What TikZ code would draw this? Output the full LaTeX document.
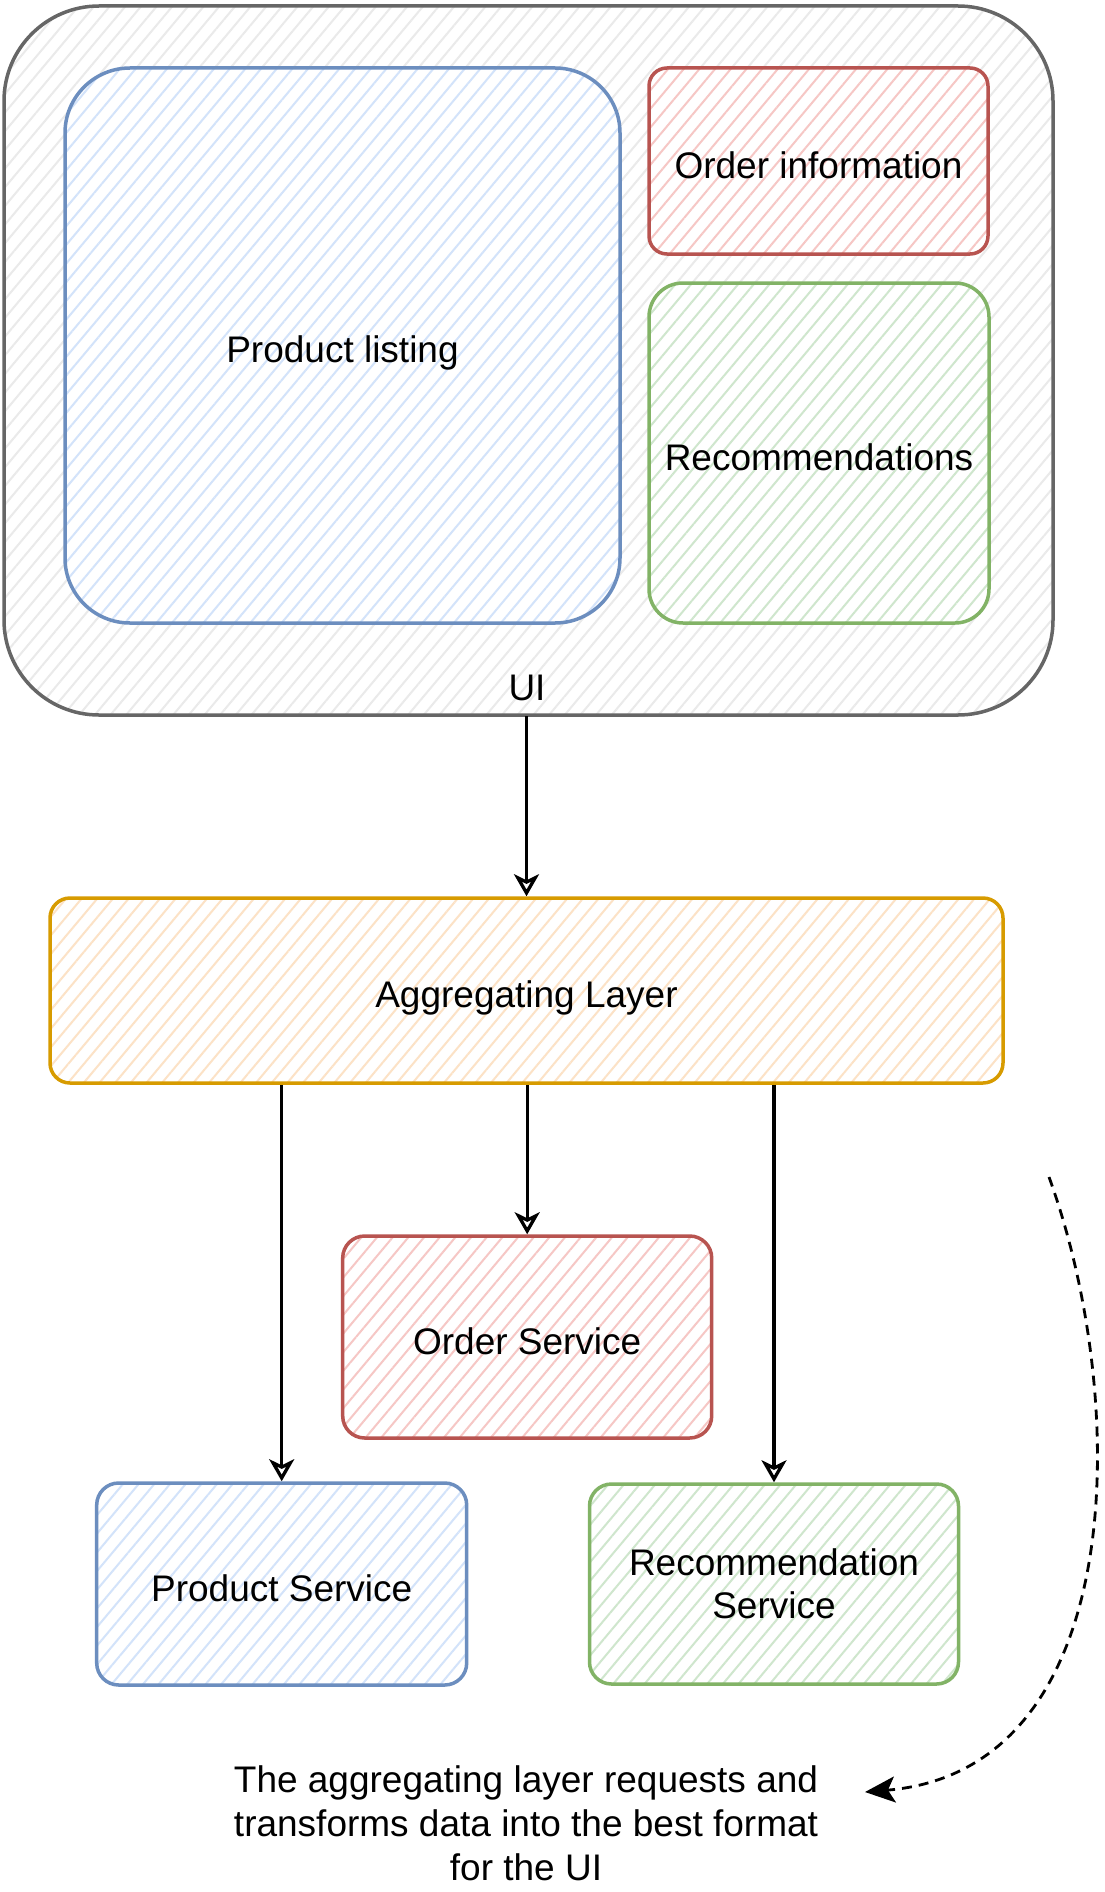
\documentclass[tikz,border=0pt]{standalone}
\usepackage{fontspec}
\setmainfont{Liberation Sans}
\usetikzlibrary{patterns.meta,arrows.meta}

\definecolor{blueline}{HTML}{6C8EBF}
\definecolor{bluefill}{HTML}{D3E3FA}
\definecolor{redline}{HTML}{B85450}
\definecolor{redfill}{HTML}{F6C7C5}
\definecolor{greenline}{HTML}{82B366}
\definecolor{greenfill}{HTML}{CFE6CD}
\definecolor{orangeline}{HTML}{D79B00}
\definecolor{orangefill}{HTML}{FCE2C6}
\definecolor{grayline}{HTML}{666666}
\definecolor{grayfill}{HTML}{EAEAEA}

\begin{document}
\begin{tikzpicture}[x=1pt,y=-1pt,
		lbl/.style={font=\fontsize{37pt}{43pt}\selectfont, text=black},
		box/.style={lbl, draw=#1line, line width=3.5pt, preaction={fill=white},
			pattern={Lines[angle=50,distance=12pt,line width=2pt]}, pattern color=#1fill},
		single/.style={text height=34.6pt, text depth=0pt},
		flow/.style={draw=black, line width=3.3pt, -{Stealth[open,length=22pt,width=25pt,inset=6pt]}},
		hint/.style={draw=black, line width=2.8pt, dash pattern=on 10pt off 7pt,
			-{Stealth[length=30pt,width=26pt,inset=7pt]}}]
		% page
		\path[use as bounding box, fill=white] (0,0) rectangle (1104,1892);

		% UI
		\node[box=gray, rounded corners=95pt, minimum width=1049pt, minimum height=709pt] (ui) at (528.5,360.5) {};
		\node[box=blue, single, rounded corners=65pt, minimum width=555pt, minimum height=555pt] (listing) at (342.5,345.5) {Product listing};
		\node[box=red, single, rounded corners=18pt, minimum width=339pt, minimum height=186pt] (orderinfo) at (818.5,161) {Order information};
		\node[box=green, single, rounded corners=34pt, minimum width=340pt, minimum height=340pt] (recs) at (819,453) {Recommendations};
		\node[lbl] (uilabel) at (527,688) {UI};

		% Aggregating layer and services
		\node[box=orange, single, rounded corners=20pt, minimum width=953pt, minimum height=185pt] (agg) at (526.5,990.5) {Aggregating Layer};
		\node[box=red, single, rounded corners=22pt, minimum width=369pt, minimum height=202pt] (ordersvc) at (527.2,1337) {Order Service};
		\node[box=blue, single, rounded corners=22pt, minimum width=370pt, minimum height=202pt] (productsvc) at (281.7,1584) {Product Service};
		\node[box=green, rounded corners=22pt, minimum width=369pt, minimum height=200pt, align=center] (recsvc) at (774,1584) {Recommendation\\Service};

		% Requests
		\draw[flow] (ui.south -| agg.north) -- (agg.north);
		\draw[flow] (agg.south -| ordersvc.north) -- (ordersvc.north);
		\draw[flow] (agg.south -| productsvc.north) -- (productsvc.north);
		\draw[flow] (agg.south -| recsvc.north) -- (recsvc.north);

		% Note
		\node[lbl, align=center, font=\fontsize{37pt}{44pt}\selectfont] (note) at (526,1823) {The aggregating layer requests and\\transforms data into the best format\\for the UI};
		\coordinate (hintstart) at (1049,1177);
		\coordinate (hinttip) at (865,1792);
		\draw[hint] (hintstart) .. controls (1130,1400) and (1130,1770) .. (hinttip);
	\end{tikzpicture}
\end{document}
